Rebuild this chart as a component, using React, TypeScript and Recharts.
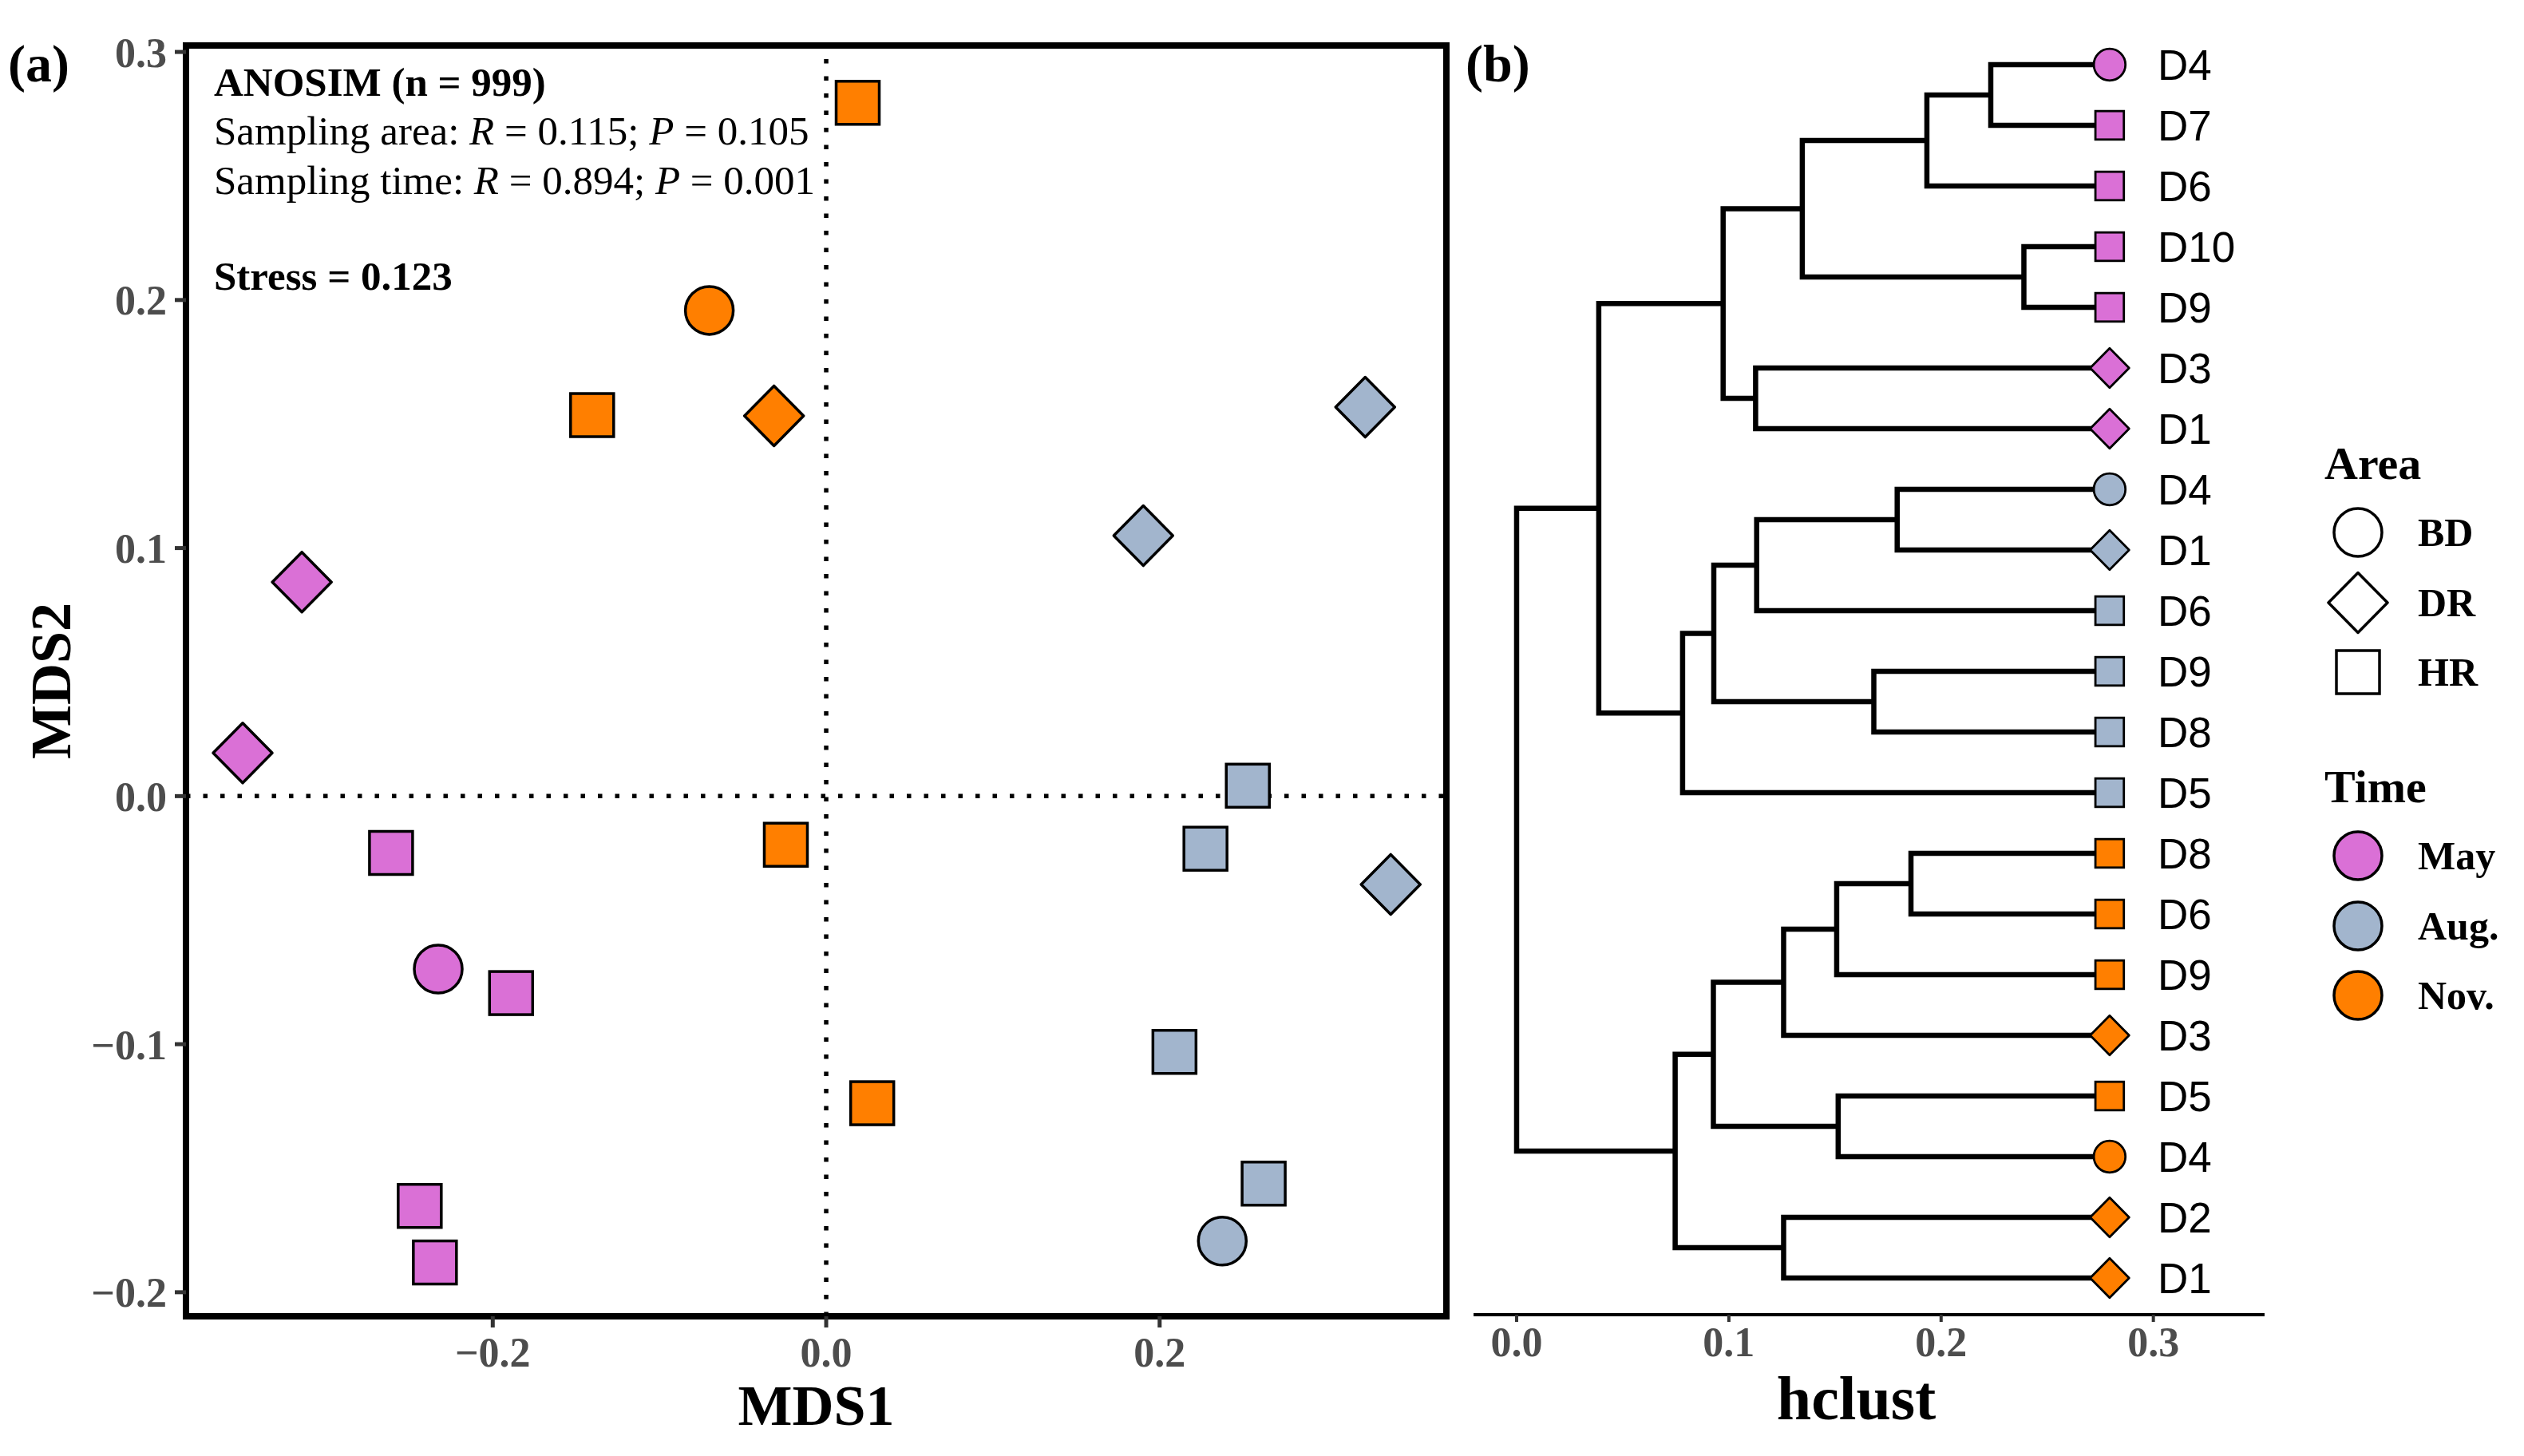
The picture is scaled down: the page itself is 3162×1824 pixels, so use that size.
import React from 'react';
import { ScatterChart, Scatter, XAxis, YAxis, ReferenceLine, ReferenceArea, Label } from 'recharts';

const timeNames = ['May', 'Aug.', 'Nov.'];
const areaNames = ['BD', 'DR', 'HR'];
const timeColors: Record<string, string> = { 'May': '#DA70D6', 'Aug.': '#A2B5CD', 'Nov.': '#FF7F00' };

// (a) NMDS scores per sampling time
const mayMds1 = [-0.3145, -0.350, -0.261, -0.2327, -0.189, -0.2438, -0.2347];
const mayMds2 = [0.0863, 0.0174, -0.0229, -0.0697, -0.0794, -0.1652, -0.188];
const mayArea = ['DR', 'DR', 'HR', 'BD', 'HR', 'HR', 'HR'];

const augMds1 = [0.3233, 0.1902, 0.2529, 0.2275, 0.3386, 0.2089, 0.2624, 0.2376];
const augMds2 = [0.1568, 0.105, 0.0042, -0.0212, -0.0356, -0.1031, -0.1562, -0.1794];
const augArea = ['DR', 'DR', 'HR', 'HR', 'DR', 'HR', 'HR', 'BD'];

const novMds1 = [0.0189, -0.0701, -0.1404, -0.0313, -0.0242, 0.0276];
const novMds2 = [0.2795, 0.1958, 0.1536, 0.1533, -0.0196, -0.1238];
const novArea = ['HR', 'BD', 'HR', 'DR', 'HR', 'HR'];

const mds1Ticks = [-0.2, 0, 0.2];
const mds2Ticks = [-0.2, -0.1, 0, 0.1, 0.2, 0.3];
const hclustTicks = [0, 0.1, 0.2, 0.3];

// (b) dendrogram, leaves from top to bottom
const leafLabels = ['D4', 'D7', 'D6', 'D10', 'D9', 'D3', 'D1', 'D4', 'D1', 'D6', 'D9', 'D8', 'D5', 'D8', 'D6', 'D9', 'D3', 'D5', 'D4', 'D2', 'D1'];
const leafTime = ['May', 'May', 'May', 'May', 'May', 'May', 'May', 'Aug.', 'Aug.', 'Aug.', 'Aug.', 'Aug.', 'Aug.', 'Nov.', 'Nov.', 'Nov.', 'Nov.', 'Nov.', 'Nov.', 'Nov.', 'Nov.'];
const leafArea = ['BD', 'HR', 'HR', 'HR', 'HR', 'DR', 'DR', 'BD', 'DR', 'HR', 'HR', 'HR', 'HR', 'HR', 'HR', 'HR', 'DR', 'HR', 'BD', 'DR', 'DR'];
const leafDepth = 0.2794;

// hclust-style merges: negative = leaf (1-based), positive = earlier merge
const mergeA = [-1, 1, -4, 2, -6, 4, -8, 7, -11, 8, 10, 6, -14, 13, 14, -18, 15, -20, 17, 12];
const mergeB = [-2, -3, -5, 3, -7, 5, -9, -10, -12, 9, -13, 11, -15, -16, -17, -19, 16, -21, 18, 19];
const mergeDepth = [0.2234, 0.1933, 0.239, 0.1346, 0.1126, 0.0973, 0.1793, 0.1131, 0.1683, 0.0929, 0.0782, 0.0387, 0.1858, 0.1508, 0.1258, 0.1515, 0.0927, 0.1258, 0.0747, 0];

const serif = '"Liberation Serif", "Times New Roman", serif';
const sans = '"Liberation Sans", Arial, sans-serif';
const tickStyle = { fontSize: 52, fontWeight: 'bold', fill: '#4D4D4D', fontFamily: serif };

const toPoints = (xs: number[], ys: number[], areas: string[]) =>
  xs.map((x, i) => ({ x, y: ys[i], area: areas[i] }));

const mdsSeries = [
  { time: timeNames[0], data: toPoints(mayMds1, mayMds2, mayArea) },
  { time: timeNames[1], data: toPoints(augMds1, augMds2, augArea) },
  { time: timeNames[2], data: toPoints(novMds1, novMds2, novArea) },
];

// dendrogram layout built from the merge table
const nLeaves = leafLabels.length;
const leafPoints = leafLabels.map((label, i) => ({
  x: leafDepth, y: nLeaves - i, label, time: leafTime[i], area: leafArea[i],
}));
const mergeY: number[] = [];
const nodePos = (c: number) =>
  c < 0 ? { x: leafDepth, y: nLeaves + 1 + c } : { x: mergeDepth[c - 1], y: mergeY[c - 1] };
const branches = mergeA.map((a, k) => {
  const pa = nodePos(a);
  const pb = nodePos(mergeB[k]);
  const h = mergeDepth[k];
  mergeY[k] = (pa.y + pb.y) / 2;
  return [
    { x: pa.x, y: pa.y },
    { x: h, y: pa.y },
    { x: h, y: pb.y },
    { x: pb.x, y: pb.y },
  ];
});

const fmt = (v: number) => (v < 0 ? '\u2212' + Math.abs(v).toFixed(1) : v.toFixed(1));

function Marker({ cx, cy, area, fill, k = 1, sw = 3.5 }: any) {
  if (area === 'BD') {
    return <circle cx={cx} cy={cy} r={30 * k} fill={fill} stroke="#000" strokeWidth={sw} />;
  }
  if (area === 'DR') {
    const w = 37 * k;
    const h = 37.5 * k;
    return (
      <polygon
        points={`${cx},${cy - h} ${cx + w},${cy} ${cx},${cy + h} ${cx - w},${cy}`}
        fill={fill} stroke="#000" strokeWidth={sw} strokeLinejoin="round"
      />
    );
  }
  const s = 27 * k;
  return <rect x={cx - s} y={cy - s} width={2 * s} height={2 * s} fill={fill} stroke="#000" strokeWidth={sw} />;
}

const annotation = ({ viewBox }: any) => {
  const x = viewBox.x + 35;
  const y = viewBox.y;
  return (
    <g fontFamily={serif} fontSize={51} fill="#000">
      <text x={x} y={y + 63} fontWeight="bold">ANOSIM (n = 999)</text>
      <text x={x} y={y + 124}>
        Sampling area: <tspan fontStyle="italic">R</tspan> = 0.115; <tspan fontStyle="italic">P</tspan> = 0.105
      </text>
      <text x={x} y={y + 186}>
        Sampling time: <tspan fontStyle="italic">R</tspan> = 0.894; <tspan fontStyle="italic">P</tspan> = 0.001
      </text>
      <text x={x} y={y + 306} fontWeight="bold">Stress = 0.123</text>
    </g>
  );
};

const yTitle = ({ viewBox }: any) => {
  const x = viewBox.x + 55;
  const y = viewBox.y + viewBox.height / 2;
  return (
    <text x={x} y={y} transform={`rotate(-90, ${x}, ${y})`} textAnchor="middle"
      fontFamily={serif} fontWeight="bold" fontSize={72} fill="#000">MDS2</text>
  );
};

function NmdsPanel() {
  return (
    <ScatterChart width={1830} height={1824} margin={{ top: 57, right: 18, bottom: 39, left: 33 }}>
      <XAxis
        type="number" dataKey="x" domain={[-0.384, 0.372]} allowDataOverflow ticks={mds1Ticks}
        tickFormatter={fmt} axisLine={false} tickSize={14} tickMargin={12}
        tickLine={{ stroke: '#333', strokeWidth: 5 }} tick={tickStyle} height={136}
      >
        <Label value="MDS1" position="insideBottom" offset={0}
          style={{ fontFamily: serif, fontWeight: 'bold', fontSize: 72, fill: '#000' }} />
      </XAxis>
      <YAxis
        type="number" dataKey="y" domain={[-0.2097, 0.3026]} allowDataOverflow ticks={mds2Ticks}
        tickFormatter={fmt} axisLine={false} tickSize={14} tickMargin={10}
        tickLine={{ stroke: '#333', strokeWidth: 5 }} tick={tickStyle} width={200}
      >
        <Label content={yTitle} />
      </YAxis>
      <ReferenceLine x={0} stroke="#000" strokeWidth={5.5} strokeDasharray="5.5 16" />
      <ReferenceLine y={0} stroke="#000" strokeWidth={5.5} strokeDasharray="5.5 16" />
      {mdsSeries.map((s) => (
        <Scatter
          key={s.time} name={s.time} data={s.data} isAnimationActive={false}
          shape={(p: any) => <Marker cx={p.cx} cy={p.cy} area={p.payload.area} fill={timeColors[s.time]} />}
        />
      ))}
      <ReferenceArea x1={-0.384} x2={0.372} y1={-0.2097} y2={0.3026} fill="none" stroke="#000" strokeWidth={8}>
        <Label content={annotation} />
      </ReferenceArea>
    </ScatterChart>
  );
}

function DendroPanel() {
  return (
    <ScatterChart width={1100} height={1824} margin={{ top: 35, right: 63, bottom: 46, left: 46 }}>
      <XAxis
        type="number" dataKey="x" domain={[-0.0203, 0.3524]} allowDataOverflow ticks={hclustTicks}
        tickFormatter={(v: number) => v.toFixed(1)} axisLine={{ stroke: '#000', strokeWidth: 4 }}
        tickSize={9} tickMargin={6} tickLine={{ stroke: '#333', strokeWidth: 4 }} tick={tickStyle} height={131}
      >
        <Label value="hclust" position="insideBottom" offset={0} dx={-16}
          style={{ fontFamily: serif, fontWeight: 'bold', fontSize: 78, fill: '#000' }} />
      </XAxis>
      <YAxis type="number" dataKey="y" domain={[0.395, 21.605]} allowDataOverflow hide />
      {branches.map((pts, k) => (
        <Scatter
          key={k} data={pts} isAnimationActive={false} line={{ stroke: '#000', strokeWidth: 6.5 }}
          lineType="joint" shape={() => <g />}
        />
      ))}
      <Scatter
        data={leafPoints} isAnimationActive={false}
        shape={(p: any) => (
          <g>
            <Marker cx={p.cx} cy={p.cy} area={p.payload.area} fill={timeColors[p.payload.time]} k={0.66} sw={2.8} />
            <text x={p.cx + 60} y={p.cy + 19} fontFamily={sans} fontSize={53} fill="#000">{p.payload.label}</text>
          </g>
        )}
      />
    </ScatterChart>
  );
}

function Overlay() {
  const keyX = 2954;
  const labX = 3029;
  const areaRows = [667, 755, 842];
  const timeRows = [1072, 1160, 1247];
  return (
    <svg width={3162} height={1824} style={{ position: 'absolute', left: 0, top: 0, pointerEvents: 'none' }}>
      <g fontFamily={serif} fontWeight="bold" fill="#000">
        <text x={10} y={102} fontSize={66}>(a)</text>
        <text x={1836} y={102} fontSize={66}>(b)</text>
        <text x={2912} y={600} fontSize={58}>Area</text>
        {areaNames.map((a, i) => (
          <g key={a}>
            <Marker cx={keyX} cy={areaRows[i]} area={a} fill="#fff" />
            <text x={labX} y={areaRows[i] + 17} fontSize={50}>{a}</text>
          </g>
        ))}
        <text x={2912} y={1005} fontSize={58}>Time</text>
        {timeNames.map((t, i) => (
          <g key={t}>
            <Marker cx={keyX} cy={timeRows[i]} area="BD" fill={timeColors[t]} />
            <text x={labX} y={timeRows[i] + 17} fontSize={50}>{t}</text>
          </g>
        ))}
      </g>
    </svg>
  );
}

export default function App() {
  return (
    <div style={{ position: 'absolute', left: 0, top: 0, width: 3162, height: 1824, background: '#fff' }}>
      <div style={{ position: 'absolute', left: 0, top: 0 }}>
        <NmdsPanel />
      </div>
      <div style={{ position: 'absolute', left: 1800, top: 0 }}>
        <DendroPanel />
      </div>
      <Overlay />
    </div>
  );
}
